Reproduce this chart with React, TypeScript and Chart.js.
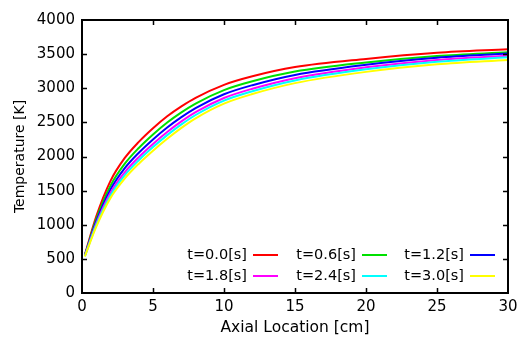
import React, { useEffect, useRef } from "react";
import { Chart, registerables } from "chart.js";

Chart.register(...registerables);

const axialCm = [0.2, 1, 2, 3, 4, 5, 6, 7, 8, 10, 12, 15, 20, 25, 30];

const seriesLabels = ["t=0.0[s]", "t=0.6[s]", "t=1.2[s]", "t=1.8[s]", "t=2.4[s]", "t=3.0[s]"];
const seriesColors = ["#ff0000", "#00e000", "#0000ff", "#ff00ff", "#00ffff", "#ffff00"];

const tempT00 = [560, 1120, 1640, 1975, 2215, 2415, 2590, 2735, 2860, 3050, 3175, 3310, 3430, 3520, 3572];
const tempT06 = [553, 1078, 1570, 1891, 2125, 2323, 2498, 2647, 2776, 2973, 3102, 3244, 3377, 3472, 3528];
const tempT12 = [548, 1045, 1515, 1825, 2055, 2250, 2425, 2577, 2710, 2912, 3045, 3195, 3344, 3447, 3508];
const tempT18 = [543, 1015, 1465, 1765, 1991, 2184, 2359, 2514, 2650, 2857, 2993, 3148, 3306, 3415, 3478];
const tempT24 = [539, 994, 1430, 1723, 1946, 2138, 2313, 2470, 2608, 2819, 2957, 3115, 3278, 3389, 3454];
const tempT30 = [535, 970, 1390, 1675, 1895, 2085, 2260, 2420, 2560, 2775, 2915, 3075, 3240, 3350, 3415];

const allSeries = [tempT00, tempT06, tempT12, tempT18, tempT24, tempT30];

const xTicks = [0, 5, 10, 15, 20, 25, 30];
const yTicks = [0, 500, 1000, 1500, 2000, 2500, 3000, 3500, 4000];

const FONT = "'DejaVu Sans', sans-serif";

const framePlugin = {
  id: "gnuFrame",
  afterDatasetsDraw(chart: any) {
    const { ctx, chartArea, scales } = chart;
    const { left, right, top, bottom } = chartArea;
    ctx.save();
    ctx.strokeStyle = "#000";
    ctx.lineWidth = 1.5;
    const tl = 5;
    ctx.beginPath();
    for (const v of xTicks) {
      if (v === 0 || v === 30) continue;
      const px = Math.round(scales.x.getPixelForValue(v)) + 0.5;
      ctx.moveTo(px, bottom);
      ctx.lineTo(px, bottom - tl);
      ctx.moveTo(px, top);
      ctx.lineTo(px, top + tl);
    }
    for (const v of yTicks) {
      if (v === 0 || v === 4000) continue;
      const py = Math.round(scales.y.getPixelForValue(v)) + 0.5;
      ctx.moveTo(left, py);
      ctx.lineTo(left + tl, py);
      ctx.moveTo(right, py);
      ctx.lineTo(right - tl, py);
    }
    ctx.stroke();
    ctx.lineWidth = 2;
    ctx.strokeRect(left, top, right - left, bottom - top);

    // key (gnuplot style: text then line sample)
    ctx.font = `14.5px ${FONT}`;
    ctx.textAlign = "right";
    ctx.textBaseline = "middle";
    ctx.fillStyle = "#000";
    const colTextRight = [165, 274, 382];
    const rowY = [bottom - 38, bottom - 17];
    chart.data.datasets.forEach((ds: any, i: number) => {
      const col = i % 3;
      const row = Math.floor(i / 3);
      const tx = left + colTextRight[col];
      const ty = rowY[row];
      ctx.fillText(ds.label, tx, ty);
      ctx.strokeStyle = ds.borderColor;
      ctx.lineWidth = 2;
      ctx.beginPath();
      ctx.moveTo(tx + 6, ty);
      ctx.lineTo(tx + 31, ty);
      ctx.stroke();
    });
    ctx.restore();
  },
};

export default function App() {
  const ref = useRef<HTMLCanvasElement | null>(null);
  useEffect(() => {
    if (!ref.current) return;
    const chart = new Chart(ref.current, {
      type: "line",
      data: {
        datasets: allSeries.map((vals, i) => ({
          label: seriesLabels[i],
          data: vals.map((y, k) => ({ x: axialCm[k], y })),
          borderColor: seriesColors[i],
          backgroundColor: seriesColors[i],
          borderWidth: 2,
          pointRadius: 0,
          fill: false,
          cubicInterpolationMode: "monotone" as const,
          order: -i,
        })),
      },
      options: {
        responsive: false,
        animation: false,
        layout: { padding: { left: 0, top: 20, right: 15, bottom: 0 } },
        plugins: {
          legend: { display: false },
          tooltip: { enabled: false },
          title: { display: false },
        },
        scales: {
          x: {
            type: "linear",
            min: 0,
            max: 30,
            afterBuildTicks: (s: any) => {
              s.ticks = xTicks.map((v) => ({ value: v }));
            },
            afterFit: (s: any) => {
              s.height = 54;
            },
            ticks: {
              color: "#000",
              font: { family: FONT, size: 15 },
              padding: 5,
              maxRotation: 0,
              callback: (v: any) => String(v),
            },
            grid: { display: false, drawTicks: false },
            border: { display: false },
            title: {
              display: true,
              text: "Axial Location [cm]",
              color: "#000",
              font: { family: FONT, size: 15.5 },
              padding: { top: 0, bottom: 10 },
            },
          },
          y: {
            type: "linear",
            min: 0,
            max: 4000,
            afterBuildTicks: (s: any) => {
              s.ticks = yTicks.map((v) => ({ value: v }));
            },
            afterFit: (s: any) => {
              s.width = 82;
            },
            ticks: {
              color: "#000",
              font: { family: FONT, size: 15 },
              padding: 7,
              callback: (v: any) => String(v),
            },
            grid: { display: false, drawTicks: false },
            border: { display: false },
            title: {
              display: true,
              text: "Temperature [K]",
              color: "#000",
              font: { family: FONT, size: 14 },
              padding: { top: 12, bottom: 0 },
            },
          },
        },
      },
      plugins: [framePlugin],
    });
    return () => chart.destroy();
  }, []);
  return (
    <div style={{ position: "absolute", left: 0, top: 0, width: 523, height: 347, background: "#fff" }}>
      <canvas ref={ref} width={523} height={347} />
    </div>
  );
}
